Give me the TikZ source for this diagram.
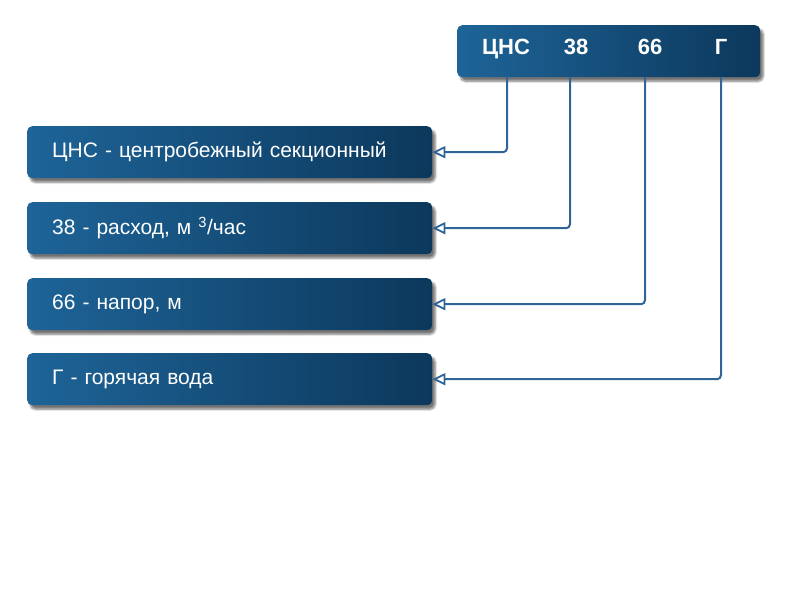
\documentclass[tikz,border=0pt]{standalone}
\usepackage{fontspec}
\setmainfont{Liberation Sans}
\usetikzlibrary{shadows.blur,arrows.meta}
\definecolor{boxL}{RGB}{30,100,152}
\definecolor{boxR}{RGB}{12,56,92}
\definecolor{lineC}{RGB}{46,100,150}
\begin{document}
\begin{tikzpicture}[x=1pt,y=-1pt,
  panel/.style={rounded corners=5pt, left color=boxL, right color=boxR, draw=none,
    blur shadow={shadow xshift=3pt, shadow yshift=-4pt, shadow blur steps=6, shadow opacity=55},
    minimum height=52pt, inner sep=0pt},
  leftpanel/.style={panel, anchor=north west, text width=355pt, inner xsep=25pt,
    align=left, text=white, font=\fontsize{21}{25}\selectfont},
  toptext/.style={text=white, font=\bfseries\fontsize{22}{26}\selectfont, inner sep=0pt, anchor=base},
  conn/.style={draw=lineC, line width=2pt, rounded corners=4pt,
    -{Triangle[open, length=13pt, width=12pt, line width=1.8pt]}}]
\useasboundingbox (0,0) rectangle (800,600);
\node[panel, anchor=north west, minimum width=303pt] (top) at (457,25) {};
\node[toptext] (t1) at (506,54) {ЦНС};
\node[toptext] (t2) at (576,54) {38};
\node[toptext] (t3) at (650,54) {66};
\node[toptext] (t4) at (721,54) {Г};
\node[leftpanel] (b1) at (27,126) {ЦНС - центробежный секционный};
\node[leftpanel] (b2) at (27,202) {38 - расход, м \textsuperscript{3}/час};
\node[leftpanel] (b3) at (27,278) {66 - напор, м};
\node[leftpanel] (b4) at (27,353) {Г - горячая вода};
\draw[conn] ([xshift=1pt]t1.center |- top.south) |- (b1.east);
\draw[conn] ([xshift=-6pt]t2.center |- top.south) |- (b2.east);
\draw[conn] ([xshift=-5pt]t3.center |- top.south) |- (b3.east);
\draw[conn] (t4.center |- top.south) |- (b4.east);
\end{tikzpicture}
\end{document}
